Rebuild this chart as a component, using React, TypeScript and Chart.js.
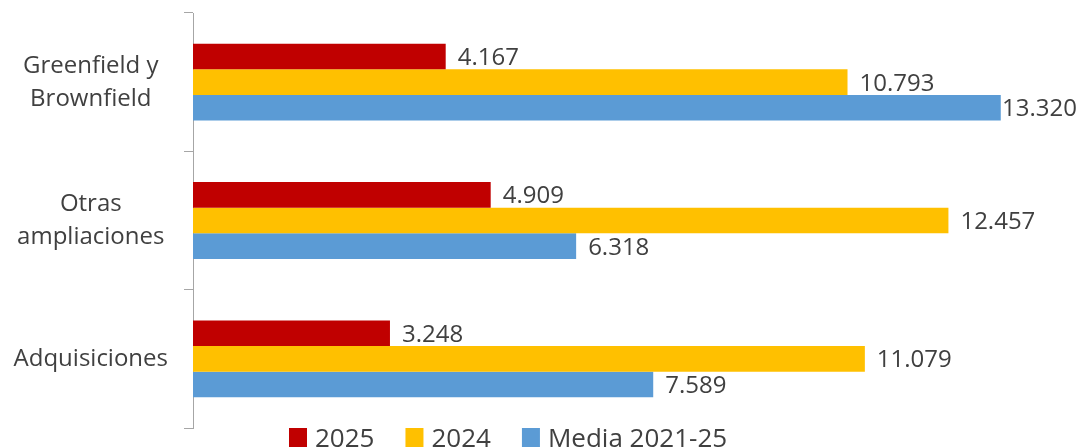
import React, { useEffect, useRef } from "react";
import { Chart, registerables } from "chart.js";

Chart.register(...registerables);

const categories: (string | string[])[] = [
  ["Greenfield y", "Brownfield"],
  ["Otras", "ampliaciones"],
  "Adquisiciones",
];
const seriesNames = ["2025", "2024", "Media 2021-25"];
const values2025 = [4167, 4909, 3248];
const values2024 = [10793, 12457, 11079];
const valuesMedia = [13320, 6318, 7589];
const colors = ["#C00000", "#FFC000", "#5B9BD5"];
const xMax = 14000;

const FONT = "'Open Sans', sans-serif";
const TEXT = "#404040";

function fmt(v: number): string {
  const s = Math.round(v).toString();
  return s.replace(/\B(?=(\d{3})+(?!\d))/g, ".");
}

const labelPlugin = {
  id: "barLabels",
  afterDatasetsDraw(chart: any) {
    const ctx = chart.ctx;
    ctx.save();
    ctx.font = `24px ${FONT}`;
    ctx.fillStyle = TEXT;
    ctx.textAlign = "left";
    ctx.textBaseline = "alphabetic";
    chart.data.datasets.forEach((ds: any, di: number) => {
      const meta = chart.getDatasetMeta(di);
      meta.data.forEach((bar: any, i: number) => {
        const txt = fmt(ds.data[i]);
        const w = ctx.measureText(txt).width;
        let x = bar.x + 12;
        if (x + w > chart.width - 8) x = chart.width - 8 - w;
        ctx.fillText(txt, x, bar.y + 8.5);
      });
    });
    ctx.restore();
  },
};

const legendPlugin = {
  id: "customLegend",
  afterDraw(chart: any) {
    const ctx = chart.ctx;
    ctx.save();
    ctx.font = `26px ${FONT}`;
    ctx.textBaseline = "alphabetic";
    ctx.textAlign = "left";
    let x = 289;
    const boxTop = 428;
    chart.data.datasets.forEach((ds: any) => {
      ctx.fillStyle = ds.backgroundColor;
      ctx.fillRect(x, boxTop, 18, 19);
      ctx.fillStyle = TEXT;
      const tx = x + 26;
      ctx.fillText(ds.label, tx, 447);
      x = tx + ctx.measureText(ds.label).width + 31;
    });
    ctx.restore();
  },
};

export default function App() {
  const ref = useRef<HTMLCanvasElement>(null);
  useEffect(() => {
    document.body.style.margin = "0";
    const chart = new Chart(ref.current!, {
      type: "bar",
      data: {
        labels: categories,
        datasets: [
          { label: seriesNames[0], data: values2025, backgroundColor: colors[0] },
          { label: seriesNames[1], data: values2024, backgroundColor: colors[1] },
          { label: seriesNames[2], data: valuesMedia, backgroundColor: colors[2] },
        ],
      },
      options: {
        indexAxis: "y",
        responsive: false,
        animation: false,
        layout: { padding: { top: 13, bottom: 20, right: 43, left: 0 } },
        datasets: {
          bar: { categoryPercentage: 0.555, barPercentage: 1 },
        } as any,
        plugins: {
          legend: { display: false },
          tooltip: { enabled: false },
        },
        scales: {
          x: { display: false, min: 0, max: xMax },
          y: {
            afterFit: (s: any) => {
              s.width = 193;
              s.paddingTop = 0;
              s.paddingBottom = 0;
              s.paddingLeft = 0;
              s.paddingRight = 0;
            },
            grid: {
              display: true,
              drawOnChartArea: false,
              drawTicks: true,
              tickLength: 9,
              offset: true,
              color: "#A6A6A6",
            },
            border: { display: true, color: "#A6A6A6" },
            ticks: {
              crossAlign: "center",
              padding: 16,
              color: TEXT,
              font: { family: FONT, size: 24, lineHeight: 1.375 },
            },
          },
        },
      },
      plugins: [labelPlugin, legendPlugin],
    });
    return () => chart.destroy();
  }, []);
  return (
    <div style={{ width: 1085, height: 448, overflow: "hidden" }}>
      <canvas ref={ref} width={1085} height={448} style={{ display: "block" }} />
    </div>
  );
}
